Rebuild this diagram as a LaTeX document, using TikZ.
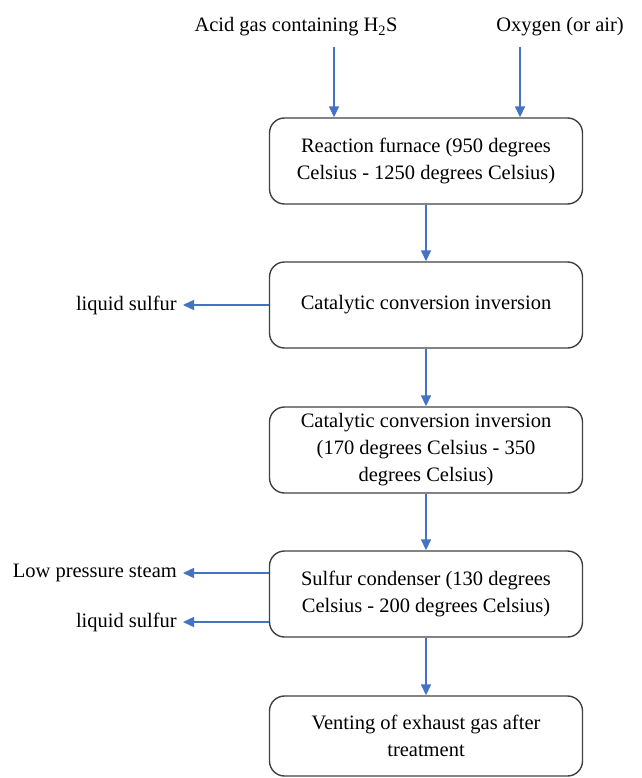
\documentclass[tikz,border=0pt]{standalone}
\usepackage{fontspec}
\setmainfont{Liberation Serif}
\newfontfamily\flowfont{Liberation Serif}
\usepackage{xcolor}
\usetikzlibrary{arrows.meta,positioning}
\definecolor{flowblue}{RGB}{68,114,196}
\definecolor{edgegray}{RGB}{64,64,64}

\begin{document}
\begin{tikzpicture}[x=1pt, y=1pt,
    unitbox/.style={draw=edgegray, line width=1.4pt, rounded corners=15pt, minimum width=313pt, minimum height=86pt, align=center, inner sep=4pt, font=\flowfont\fontsize{20.5}{27}\selectfont},
    feedlabel/.style={font=\flowfont\fontsize{20.5}{27}\selectfont, inner sep=0pt},
    outlabel/.style={font=\flowfont\fontsize{20.5}{27}\selectfont, inner sep=0pt, anchor=east},
    flow/.style={-{Triangle[length=11pt, width=10pt]}, flowblue, line width=1.5pt}
]
\useasboundingbox (0,0) rectangle (641,-778);

\node[feedlabel] (acid) at (296,-27) {Acid gas containing H\textsubscript{2}S};
\node[feedlabel] (oxy) at (560,-27) {Oxygen (or air)};

\node[unitbox] (furnace) at (426,-161) {Reaction furnace (950 degrees\\Celsius - 1250 degrees Celsius)};
\node[unitbox] (conv1) at (426,-305) {Catalytic conversion inversion};
\node[unitbox] (conv2) at (426,-450) {Catalytic conversion inversion\\(170 degrees Celsius - 350\\degrees Celsius)};
\node[unitbox] (cond) at (426,-594) {Sulfur condenser (130 degrees\\Celsius - 200 degrees Celsius)};
\node[unitbox, minimum height=80pt] (vent) at (426,-736) {Venting of exhaust gas after\\treatment};

\node[outlabel] (sulf1) at (177,-305) {liquid sulfur};
\node[outlabel] (steam) at (177,-573) {Low pressure steam};
\node[outlabel] (sulf2) at (177,-622) {liquid sulfur};

% feeds into the furnace
\coordinate (acidin) at (334,-47);
\coordinate (oxyin) at (520,-47);
\draw[flow] (acidin) -- (acidin |- furnace.north);
\draw[flow] (oxyin) -- (oxyin |- furnace.north);

% main line
\foreach \a/\b in {furnace/conv1,conv1/conv2,conv2/cond,cond/vent}
  \draw[flow] (\a) -- (\b);

% side products
\draw[flow] (conv1.west) -- ([xshift=6pt]sulf1.east);
\draw[flow] (cond.west |- steam) -- ([xshift=6pt]steam.east);
\draw[flow] (cond.west |- sulf2) -- ([xshift=6pt]sulf2.east);
\end{tikzpicture}
\end{document}
